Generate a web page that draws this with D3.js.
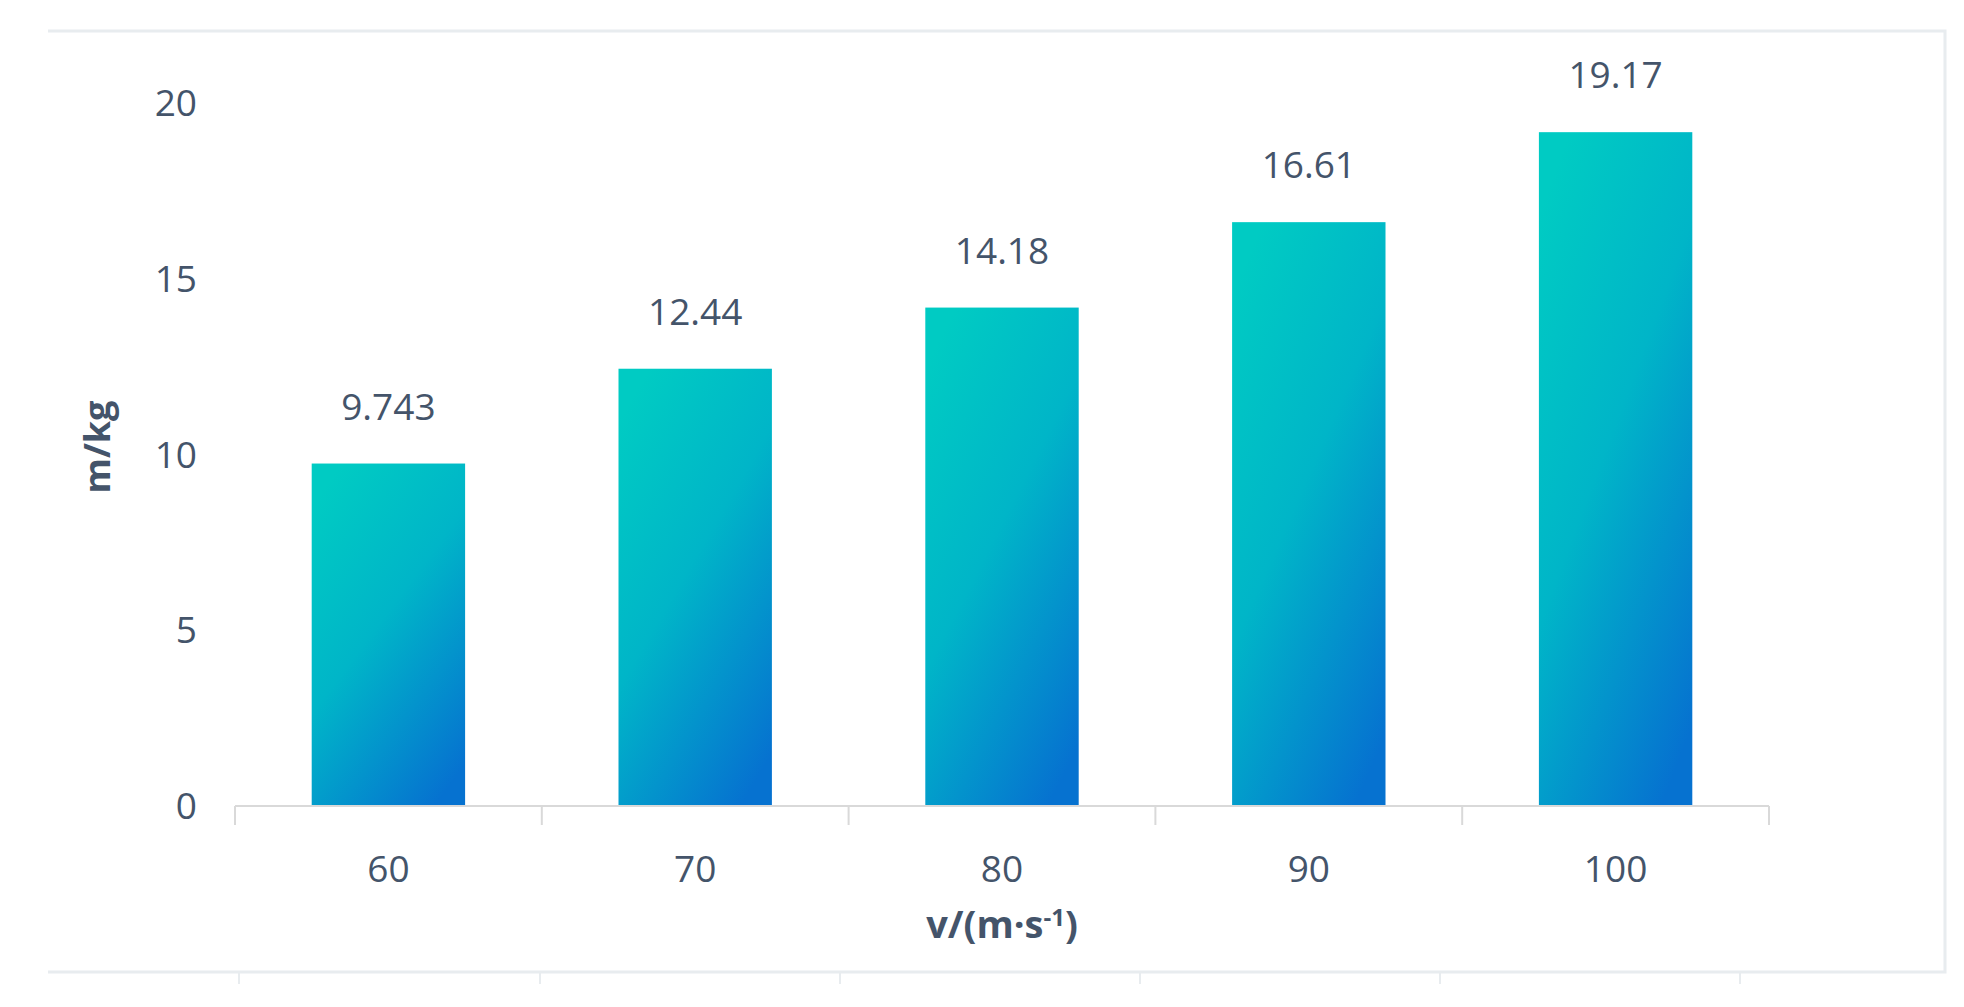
<!DOCTYPE html>
<html><head><meta charset="utf-8">
<script src="https://cdn.jsdelivr.net/npm/d3@7"></script>
<style>body{margin:0;background:#fff}text{font-family:"Open Sans",sans-serif}</style>
</head><body>
<svg id="c" width="1964" height="1007"></svg>
<script>
const categories = ["60","70","80","90","100"];
const values = [9.743, 12.44, 14.18, 16.61, 19.17];
const labels = ["9.743","12.44","14.18","16.61","19.17"];
const yTicks = [0,5,10,15,20];

const svg = d3.select("#c");
const L=235, R=1769, B=806, T=103;
const x = d3.scaleBand().domain(categories).range([L,R]).paddingInner(0.5).paddingOuter(0.25);
const y = d3.scaleLinear().domain([0,20]).range([B,T]);

// frame
svg.append("path").attr("d","M48,31H1945V972H48").attr("fill","none").attr("stroke","#e8ecef").attr("stroke-width",3);

const defs = svg.append("defs");
const g = defs.append("linearGradient").attr("id","grad").attr("x1",0.2).attr("y1",0).attr("x2",0.8).attr("y2",1);
g.append("stop").attr("offset","0%").attr("stop-color","#00cbc3");
g.append("stop").attr("offset","45%").attr("stop-color","#00b5c8");
g.append("stop").attr("offset","100%").attr("stop-color","#0672d0");

svg.selectAll(".bar").data(values).join("rect")
  .attr("x",(d,i)=>x(categories[i])).attr("width",x.bandwidth())
  .attr("y",d=>y(d)).attr("height",d=>B-y(d)).attr("fill","url(#grad)");

svg.selectAll(".lbl").data(values).join("text")
  .attr("x",(d,i)=>x(categories[i])+x.bandwidth()/2).attr("y",d=>y(d)-44)
  .attr("text-anchor","middle").attr("font-size",37).attr("fill","#44546a")
  .text((d,i)=>labels[i]);

// x axis
const xa = svg.append("g").attr("transform",`translate(0,${B})`);
xa.append("line").attr("x1",L).attr("x2",R).attr("stroke","#d9d9d9").attr("stroke-width",2);
const edges = categories.map((c,i)=>L+i*(R-L)/categories.length).concat([R]);
xa.selectAll(".t").data(edges).join("line").attr("x1",d=>d).attr("x2",d=>d).attr("y1",0).attr("y2",19).attr("stroke","#d9d9d9").attr("stroke-width",2);
xa.selectAll(".xl").data(categories).join("text").attr("x",d=>x(d)+x.bandwidth()/2).attr("y",76)
  .attr("text-anchor","middle").attr("font-size",37).attr("fill","#44546a").text(d=>d);

// y ticks
svg.selectAll(".yl").data(yTicks).join("text").attr("x",197).attr("y",d=>y(d)+13)
  .attr("text-anchor","end").attr("font-size",37).attr("fill","#44546a").text(d=>d);

// titles
svg.append("text").attr("x",(L+R)/2).attr("y",938).attr("text-anchor","middle").attr("font-size",38).attr("font-weight","bold").attr("fill","#44546a")
  .html('v/(m·s<tspan dy="-12" font-size="24">-1</tspan><tspan dy="12">)</tspan>');
svg.append("text").attr("transform","translate(110,447) rotate(-90)").attr("text-anchor","middle").attr("font-size",36).attr("font-weight","bold").attr("fill","#44546a").text("m/kg");

// stray ticks under frame
svg.selectAll(".st").data([239,540,840,1140,1440,1740]).join("line").attr("x1",d=>d).attr("x2",d=>d).attr("y1",972).attr("y2",984).attr("stroke","#e8ecef").attr("stroke-width",2);
</script>
</body></html>
